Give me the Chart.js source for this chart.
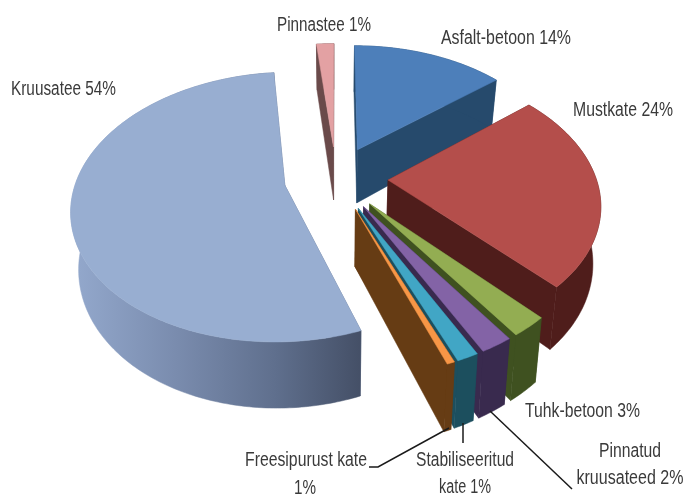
<!DOCTYPE html>
<html>
<head>
<meta charset="utf-8">
<title>Teekatted</title>
<script src="https://cdn.jsdelivr.net/npm/chart.js@4"></script>
<style>
  html, body { margin: 0; padding: 0; background: #fff; }
  canvas { display: block; }
</style>
</head>
<body>
<canvas id="chart" width="685" height="496"></canvas>
<script>
// osakaalud loetud pildilt (%), sildid on ümardatud
const categories = ['Asfalt-betoon', 'Mustkate', 'Tuhk-betoon', 'Pinnatud kruusateed', 'Stabiliseeritud kate', 'Freesipurust kate', 'Kruusatee', 'Pinnastee'];
const shares = [14, 24, 2.4, 2.1, 1.4, 0.5, 54, 1.6];
const labelLines = [
  ['Asfalt-betoon 14%'],
  ['Mustkate 24%'],
  ['Tuhk-betoon 3%'],
  ['Pinnatud', 'kruusateed 2%'],
  ['Stabiliseeritud', 'kate 1%'],
  ['Freesipurust kate', '1%'],
  ['Kruusatee 54%'],
  ['Pinnastee 1%']
];

const topColors = ['#4d7fba', '#b44e4b', '#93ad52', '#8363a6', '#41a6c5', '#f79646', '#98aed1', '#e3a1a3'];
const wallColors = ['#264a6c', '#4f1d1b', '#3f5120', '#392a4e', '#1c4f5e', '#663c14', '#5f6f8d', '#6a4a4a'];

// pildi vaade: keskpunkt, raadiused, perspektiiv
const view = { cx: 336, cy: 178, sx: 208, sy: 129, persp: 0.16, depth: 55, shrink: 0.97 };
const explodePct = 25;
const drawOrder = [7, 0, 1, 2, 3, 4, 5, 6];

// sildi asukoht: [x, y, joondus, laius] iga rea kohta
const labelBoxes = [
  [[441, 38, 'left', 130]],
  [[573, 110, 'left', 100]],
  [[525, 411, 'left', 115]],
  [[630, 451, 'center', 62], [630, 478, 'center', 107]],
  [[465, 460, 'center', 98], [465, 487, 'center', 52]],
  [[245, 460, 'left', 122], [305, 488, 'center', 22]],
  [[11, 89, 'left', 105]],
  [[277, 25, 'left', 94]]
];
const leaders = [
  [[449, 428], [378, 467], [369, 467]],
  [[463, 423], [463, 443]],
  [[490, 411], [572, 489]]
];

function project(u, v, low) {
  const s = 1 / (1 - view.persp * v);
  let x = view.cx + view.sx * u * s;
  let y = view.cy + view.sy * v * s;
  if (low) {
    x = view.cx + (x - view.cx) * view.shrink;
    y += view.depth * s;
  }
  return [x, y];
}

function fillPoly(ctx, pts, color) {
  ctx.beginPath();
  pts.forEach((p, i) => (i ? ctx.lineTo(p[0], p[1]) : ctx.moveTo(p[0], p[1])));
  ctx.closePath();
  ctx.fillStyle = color;
  ctx.fill();
  ctx.strokeStyle = color;
  ctx.lineWidth = 0.5;
  ctx.stroke();
}

const pie3d = {
  id: 'pie3d',
  beforeDatasetDraw(chart) {
    const ctx = chart.ctx;
    const arcs = chart.getDatasetMeta(0).data;
    drawOrder.forEach(i => {
      const arc = arcs[i];
      const mid = (arc.startAngle + arc.endAngle) / 2;
      const e = arc.options.offset / 100;
      const ou = Math.cos(mid) * e;
      const ov = Math.sin(mid) * e;
      const steps = Math.max(2, Math.ceil((arc.endAngle - arc.startAngle) * 60));
      const rimTop = [];
      const rimLow = [];
      for (let k = 0; k <= steps; k++) {
        const a = arc.startAngle + (arc.endAngle - arc.startAngle) * k / steps;
        rimTop.push(project(ou + Math.cos(a), ov + Math.sin(a), false));
        rimLow.push(project(ou + Math.cos(a), ov + Math.sin(a), true));
      }
      const apexTop = project(ou, ov, false);
      const apexLow = project(ou, ov, true);

      // küljed
      fillPoly(ctx, [apexTop, rimTop[0], rimLow[0], apexLow], wallColors[i]);
      fillPoly(ctx, [apexTop, rimTop[steps], rimLow[steps], apexLow], wallColors[i]);
      let rimFill = wallColors[i];
      if (i === 6) {
        rimFill = ctx.createLinearGradient(75, 0, 362, 0);
        rimFill.addColorStop(0, '#93a8cc');
        rimFill.addColorStop(0.35, '#7a8cae');
        rimFill.addColorStop(0.7, '#5f6f8d');
        rimFill.addColorStop(1, '#444f66');
      }
      fillPoly(ctx, rimTop.concat(rimLow.slice().reverse()), rimFill);

      // pealispind
      fillPoly(ctx, [apexTop].concat(rimTop), topColors[i]);
    });
    return false;
  },
  afterDatasetsDraw(chart) {
    const ctx = chart.ctx;
    ctx.save();
    ctx.strokeStyle = '#1a1a1a';
    ctx.lineWidth = 1.5;
    leaders.forEach(line => {
      ctx.beginPath();
      line.forEach((p, i) => (i ? ctx.lineTo(p[0], p[1]) : ctx.moveTo(p[0], p[1])));
      ctx.stroke();
    });
    ctx.fillStyle = '#3a3a3a';
    ctx.font = '20px "Liberation Sans", sans-serif';
    ctx.textBaseline = 'middle';
    labelLines.forEach((lines, i) => {
      lines.forEach((text, j) => {
        const box = labelBoxes[i][j];
        ctx.textAlign = box[2];
        ctx.fillText(text, box[0], box[1], box[3]);
      });
    });
    ctx.restore();
  }
};

new Chart(document.getElementById('chart'), {
  type: 'pie',
  data: {
    labels: categories,
    datasets: [{
      data: shares,
      backgroundColor: topColors,
      offset: explodePct,
      borderWidth: 0
    }]
  },
  options: {
    responsive: false,
    animation: false,
    rotation: 0,
    events: [],
    plugins: { legend: { display: false }, tooltip: { enabled: false } }
  },
  plugins: [pie3d]
});
</script>
</body>
</html>
